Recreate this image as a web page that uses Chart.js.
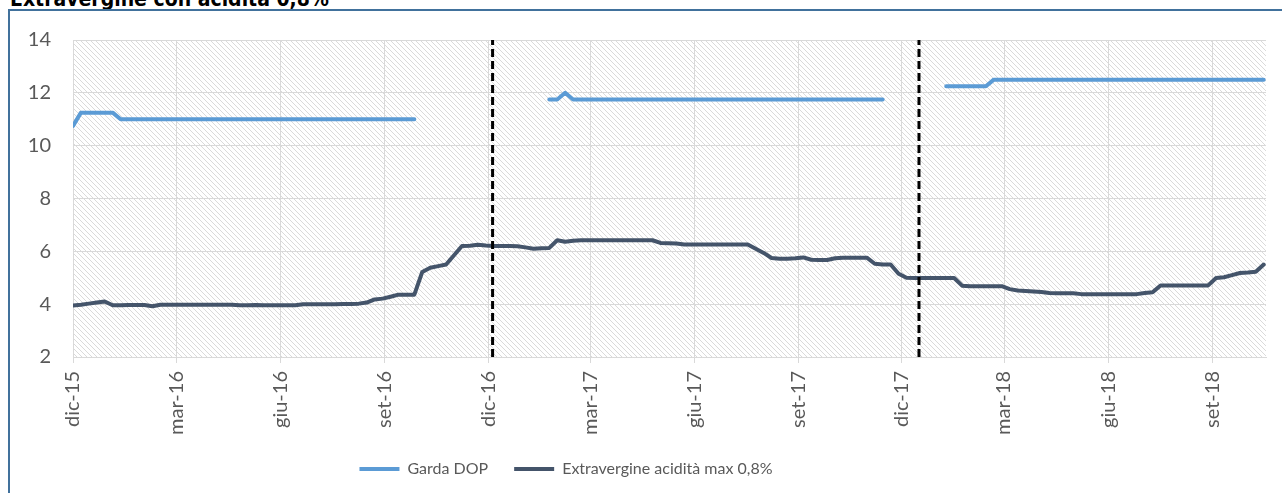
<!DOCTYPE html>
<html>
<head>
<meta charset="utf-8">
<script src="https://cdn.jsdelivr.net/npm/chart.js@4.4.0/dist/chart.umd.min.js"></script>
<style>
  html, body { margin: 0; padding: 0; background: #fff; overflow: hidden; }
  #title { position: absolute; left: 10px; top: -13px; line-height: 21px; font: bold 21px 'DejaVu Sans Condensed', sans-serif; color: #000; white-space: nowrap; }
  #frame { position: absolute; left: 8px; top: 9px; width: 1300px; height: 520px; border: 2px solid #41719c; box-sizing: border-box; }
  #wrap { position: absolute; left: 0; top: 0; width: 1282px; height: 487px; }
</style>
</head>
<body>
<div id="title">Extravergine con acidità 0,8%</div>
<div id="frame"></div>
<div id="wrap"><canvas id="myChart"></canvas></div>
<script>
// weekly prices, first week starting 1 Dec 2015
const startDate = '2015-12-01';

const garda = [
  10.75, 11.25, 11.25, 11.25, 11.25, 11.25,
  11.0, 11.0, 11.0, 11.0, 11.0, 11.0, 11.0, 11.0, 11.0, 11.0,
  11.0, 11.0, 11.0, 11.0, 11.0, 11.0, 11.0, 11.0, 11.0, 11.0,
  11.0, 11.0, 11.0, 11.0, 11.0, 11.0, 11.0, 11.0, 11.0, 11.0,
  11.0, 11.0, 11.0, 11.0, 11.0, 11.0, 11.0, 11.0,
  null, null, null, null, null, null, null, null, null, null,
  null, null, null, null, null, null,
  11.75, 11.75, 12.0,
  11.75, 11.75, 11.75, 11.75, 11.75, 11.75, 11.75, 11.75, 11.75, 11.75,
  11.75, 11.75, 11.75, 11.75, 11.75, 11.75, 11.75, 11.75, 11.75, 11.75,
  11.75, 11.75, 11.75, 11.75, 11.75, 11.75, 11.75, 11.75, 11.75, 11.75,
  11.75, 11.75, 11.75, 11.75, 11.75, 11.75, 11.75, 11.75, 11.75, 11.75,
  null, null, null, null, null, null, null,
  12.25, 12.25, 12.25, 12.25, 12.25, 12.25,
  12.5, 12.5, 12.5, 12.5, 12.5, 12.5, 12.5, 12.5, 12.5, 12.5,
  12.5, 12.5, 12.5, 12.5, 12.5, 12.5, 12.5, 12.5, 12.5, 12.5,
  12.5, 12.5, 12.5, 12.5, 12.5, 12.5, 12.5, 12.5, 12.5, 12.5,
  12.5, 12.5, 12.5, 12.5, 12.5
];

const extravergine = [
  3.95, 3.98, 4.02, 4.06, 4.1, 3.96, 3.96, 3.97, 3.97, 3.97,
  3.92, 3.98, 3.98, 3.98, 3.98, 3.98, 3.98, 3.98, 3.98, 3.98,
  3.98, 3.96, 3.96, 3.97, 3.96, 3.96, 3.96, 3.96, 3.96, 4.0,
  4.0, 4.0, 4.0, 4.0, 4.01, 4.01, 4.02, 4.06, 4.18, 4.21,
  4.28, 4.36, 4.36, 4.36, 5.22, 5.38, 5.44, 5.5, 5.85, 6.2,
  6.21, 6.25, 6.22, 6.2, 6.2, 6.2, 6.19, 6.15, 6.1, 6.12,
  6.13, 6.42, 6.36, 6.4, 6.42, 6.42, 6.42, 6.42, 6.42, 6.42,
  6.42, 6.42, 6.42, 6.42, 6.32, 6.31, 6.3, 6.26, 6.26, 6.26,
  6.26, 6.26, 6.26, 6.26, 6.26, 6.26, 6.1, 5.94, 5.75, 5.72,
  5.72, 5.74, 5.77, 5.68, 5.67, 5.67, 5.74, 5.76, 5.76, 5.76,
  5.76, 5.53, 5.5, 5.5, 5.15, 5.0, 4.99, 4.99, 4.99, 4.99,
  4.99, 4.99, 4.7, 4.68, 4.68, 4.68, 4.68, 4.68, 4.57, 4.52,
  4.5, 4.48, 4.46, 4.42, 4.41, 4.41, 4.41, 4.38, 4.38, 4.38,
  4.38, 4.38, 4.38, 4.38, 4.38, 4.42, 4.45, 4.71, 4.71, 4.71,
  4.71, 4.71, 4.71, 4.71, 4.99, 5.02, 5.1, 5.18, 5.2, 5.23,
  5.5
];

const tickDates = ['2015-12-01', '2016-03-01', '2016-06-01', '2016-09-01',
  '2016-12-01', '2017-03-01', '2017-06-01', '2017-09-01',
  '2017-12-01', '2018-03-01', '2018-06-01', '2018-09-01'];
const tickLabels = ['dic-15', 'mar-16', 'giu-16', 'set-16', 'dic-16', 'mar-17',
  'giu-17', 'set-17', 'dic-17', 'mar-18', 'giu-18', 'set-18'];

// start of new campaign (dashed lines)
const campaignBreaks = ['2016-12-05', '2017-12-16'];

const yMin = 2, yMax = 14, yStep = 2;
const xEnd = '2018-10-18';

function dayOf(s) {
  return (Date.parse(s) - Date.parse(startDate)) / 86400000;
}
const weekDays = extravergine.map((v, i) => i * 7);
const tickDays = tickDates.map(dayOf);

const hatchBg = {
  id: 'hatchBg',
  beforeDraw(chart) {
    const { ctx, chartArea: a } = chart;
    const n = 5;
    const tile = document.createElement('canvas');
    tile.width = n; tile.height = n;
    const t = tile.getContext('2d');
    t.strokeStyle = '#dadada';
    t.lineWidth = 1;
    for (const o of [-n, 0, n]) {
      t.beginPath();
      t.moveTo(o - 1, -1);
      t.lineTo(o + n + 1, n + 1);
      t.stroke();
    }
    ctx.save();
    ctx.fillStyle = '#ffffff';
    ctx.fillRect(a.left, a.top, a.right - a.left, a.bottom - a.top);
    ctx.fillStyle = ctx.createPattern(tile, 'repeat');
    ctx.fillRect(a.left, a.top, a.right - a.left, a.bottom - a.top);
    ctx.restore();
  }
};

const breakSets = campaignBreaks.map(d => ({
  label: '',
  data: [{ x: dayOf(d), y: yMin }, { x: dayOf(d), y: yMax }],
  borderColor: '#000000',
  borderWidth: 3,
  borderDash: [8, 4],
  pointRadius: 0,
  order: 0
}));

const ctx = document.getElementById('myChart').getContext('2d');
const chart = new Chart(ctx, {
  type: 'line',
  data: {
    datasets: [
      {
        label: 'Garda DOP',
        data: garda.map((v, i) => ({ x: weekDays[i], y: v })),
        borderColor: '#5b9bd5',
        backgroundColor: '#5b9bd5',
        borderWidth: 4,
        borderCapStyle: 'round',
        borderJoinStyle: 'round',
        pointRadius: 0,
        spanGaps: false,
        order: 1
      },
      {
        label: 'Extravergine acidità max 0,8%',
        data: extravergine.map((v, i) => ({ x: weekDays[i], y: v })),
        borderColor: '#44546a',
        backgroundColor: '#44546a',
        borderWidth: 4,
        borderCapStyle: 'round',
        borderJoinStyle: 'round',
        pointRadius: 0,
        order: 1
      },
      ...breakSets
    ]
  },
  options: {
    responsive: true,
    maintainAspectRatio: false,
    animation: false,
    layout: { padding: { top: 40, right: 16, left: 14, bottom: 0 } },
    plugins: {
      tooltip: { enabled: false },
      legend: {
        position: 'bottom',
        onClick: null,
        labels: {
          boxWidth: 40,
          boxHeight: 4,
          padding: 26,
          color: '#595959',
          font: { family: 'Lato', size: 16 },
          sort: (a, b) => a.datasetIndex - b.datasetIndex,
          generateLabels(c) {
            // the dashed separators keep an empty, invisible legend slot
            const items = Chart.defaults.plugins.legend.labels.generateLabels(c);
            items.forEach(it => {
              it.fillStyle = it.text ? it.strokeStyle : 'rgba(0,0,0,0)';
              it.lineWidth = 0;
            });
            return items;
          }
        }
      }
    },
    scales: {
      x: {
        type: 'linear',
        min: 0,
        max: dayOf(xEnd),
        afterBuildTicks: s => { s.ticks = tickDays.map(v => ({ value: v })); },
        afterFit: s => { s.height = 78; },
        grid: { color: '#d9d9d9', tickColor: '#d9d9d9', tickLength: 6, drawTicks: true },
        border: { display: true, color: '#d9d9d9' },
        ticks: {
          autoSkip: false,
          minRotation: 90,
          maxRotation: 90,
          padding: 8,
          color: '#595959',
          font: { family: 'Lato', size: 20 },
          callback: v => tickLabels[tickDays.indexOf(v)]
        }
      },
      y: {
        min: yMin,
        max: yMax,
        afterFit: s => { s.width = 59; },
        grid: { color: '#d9d9d9', drawTicks: false },
        border: { display: false },
        ticks: {
          stepSize: yStep,
          padding: 22,
          color: '#595959',
          font: { family: 'Lato', size: 20 }
        }
      }
    }
  },
  plugins: [hatchBg]
});
</script>
</body>
</html>
